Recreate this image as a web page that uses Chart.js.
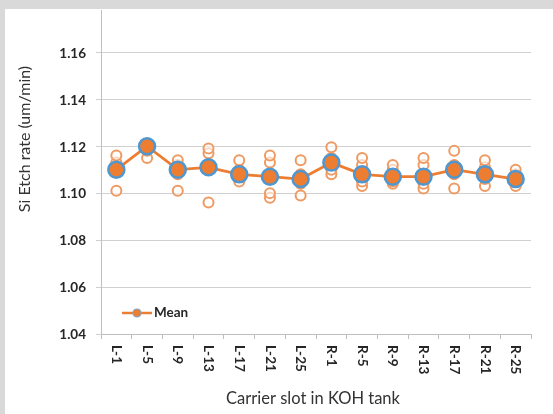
<!DOCTYPE html>
<html>
<head>
<meta charset="utf-8">
<script src="https://cdn.jsdelivr.net/npm/chart.js@4"></script>
<style>
  html, body { margin: 0; padding: 0; background: #d9d9d9; width: 553px; height: 414px; overflow: hidden; }
  #wrap { position: absolute; left: 5px; top: 9px; width: 548px; height: 405px; background: #ffffff; }
  canvas { display: block; }
</style>
</head>
<body>
<div id="wrap"><canvas id="c" width="548" height="405"></canvas></div>
<script>
// ---- data ----
const categories = ["L-1","L-5","L-9","L-13","L-17","L-21","L-25","R-1","R-5","R-9","R-13","R-17","R-21","R-25"];
const meanValues = [1.110,1.120,1.110,1.111,1.108,1.107,1.106,1.113,1.108,1.107,1.107,1.110,1.108,1.106];
const waferA = [1.116,1.121,1.114,1.119,1.114,1.116,1.114,1.1195,1.115,1.112,1.115,1.118,1.114,1.110];
const waferB = [1.113,1.120,1.112,1.117,1.110,1.113,1.108,1.115,1.112,1.110,1.112,1.112,1.111,1.108];
const waferC = [1.109,1.118,1.108,1.110,1.107,1.100,1.104,1.110,1.105,1.105,1.104,1.108,1.106,1.105];
const waferD = [1.101,1.115,1.101,1.096,1.105,1.098,1.099,1.108,1.103,1.104,1.102,1.102,1.103,1.103];
const yTicks = [1.04,1.06,1.08,1.10,1.12,1.14,1.16];
const yTitle = "Si Etch rate (um/min)";
const xTitle = "Carrier slot in KOH tank";
const legendLabel = "Mean";

const ORANGE = "#ED7D31";
const BLUE = "#4F97D1";
const FONT = "Lato, 'Open Sans', sans-serif";

function waferSet(data) {
  return {
    label: "", data: data, showLine: false, order: 1,
    pointRadius: 5, pointHoverRadius: 5, pointBorderWidth: 2,
    pointBorderColor: "#EF9A62", pointBackgroundColor: "rgba(255,255,255,0.6)",
    borderColor: "#EF9A62"
  };
}

const overlay = {
  id: "overlay",
  afterDraw(chart) {
    const ctx = chart.ctx;
    const xs = chart.scales.x;
    const ys = chart.scales.y;
    const area = chart.chartArea;
    ctx.save();
    ctx.fillStyle = "#262626";
    ctx.font = "bold 13.5px " + FONT;
    // y tick labels
    ctx.textAlign = "right";
    ctx.textBaseline = "middle";
    yTicks.forEach(v => {
      ctx.fillText(v.toFixed(2), area.left - 15, ys.getPixelForValue(v) + 1);
    });
    // rotated x tick labels (reading top to bottom)
    ctx.textAlign = "left";
    ctx.textBaseline = "middle";
    categories.forEach((lab, i) => {
      const px = xs.getPixelForTick(i);
      ctx.save();
      ctx.translate(px, area.bottom + 11);
      ctx.rotate(Math.PI / 2);
      ctx.fillText(lab, 0, 0);
      ctx.restore();
    });
    // y title
    ctx.save();
    ctx.font = "16px " + FONT;
    ctx.fillStyle = "#333333";
    ctx.textAlign = "center";
    ctx.textBaseline = "middle";
    ctx.translate(20, 130);
    ctx.rotate(-Math.PI / 2);
    ctx.fillText(yTitle, 0, 0);
    ctx.restore();
    // x title
    ctx.font = "16.5px " + FONT;
    ctx.fillStyle = "#333333";
    ctx.textAlign = "center";
    ctx.textBaseline = "middle";
    ctx.fillText(xTitle, (area.left + area.right) / 2 - 3, 390);
    // legend
    const ly = 304;
    ctx.strokeStyle = ORANGE;
    ctx.lineWidth = 2.5;
    ctx.beginPath();
    ctx.moveTo(area.left + 21, ly);
    ctx.lineTo(area.left + 51, ly);
    ctx.stroke();
    ctx.beginPath();
    ctx.arc(area.left + 36, ly, 4, 0, Math.PI * 2);
    ctx.fillStyle = ORANGE;
    ctx.fill();
    ctx.lineWidth = 1.2;
    ctx.strokeStyle = "#7FA7C8";
    ctx.stroke();
    ctx.fillStyle = "#262626";
    ctx.font = "bold 13.5px " + FONT;
    ctx.textAlign = "left";
    ctx.fillText(legendLabel, area.left + 53, ly);
    ctx.restore();
  }
};

new Chart(document.getElementById("c"), {
  type: "line",
  data: {
    labels: categories,
    datasets: [
      {
        label: legendLabel, data: meanValues, order: 0,
        borderColor: ORANGE, borderWidth: 2.8,
        pointRadius: 8, pointHoverRadius: 8,
        pointBackgroundColor: ORANGE, pointBorderColor: BLUE, pointBorderWidth: 2.5
      },
      waferSet(waferA), waferSet(waferB), waferSet(waferC), waferSet(waferD)
    ]
  },
  options: {
    responsive: false,
    animation: false,
    devicePixelRatio: 1,
    layout: { autoPadding: false, padding: { left: 0, top: 1, right: 22, bottom: 0 } },
    plugins: { legend: { display: false }, tooltip: { enabled: false } },
    events: [],
    scales: {
      x: {
        offset: true,
        grid: { offset: true, drawOnChartArea: false, tickLength: 5, color: "#bfbfbf" },
        border: { color: "#bfbfbf" },
        ticks: { display: false },
        afterFit(s) { s.height = 80; }
      },
      y: {
        min: 1.04, max: 1.178,
        afterBuildTicks(s) { s.ticks = yTicks.map(v => ({ value: v })); },
        ticks: { display: false },
        grid: { color: "#d0d0d0", tickLength: 5, lineWidth: 1 },
        border: { color: "#bfbfbf" },
        afterFit(s) { s.width = 96; }
      }
    }
  },
  plugins: [overlay]
});
</script>
</body>
</html>
